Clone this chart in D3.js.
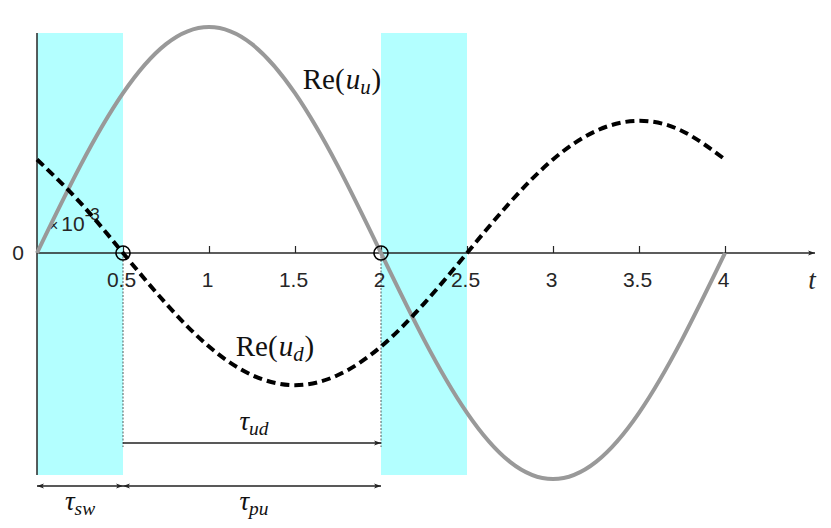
<!DOCTYPE html>
<html><head><meta charset="utf-8">
<script src="https://cdn.jsdelivr.net/npm/d3@7"></script>
<style>body{margin:0;background:#fff}svg{display:block}</style>
</head><body><svg id="c" width="831" height="528"></svg>
<script>
// Data
const tValues = [0,0.25,0.5,0.75,1,1.25,1.5,1.75,2,2.25,2.5,2.75,3,3.25,3.5,3.75,4];
const reUu = [0,0.383,0.707,0.924,1,0.924,0.707,0.383,0,-0.383,-0.707,-0.924,-1,-0.924,-0.707,-0.383,0];
const reUd = [0.414,0.224,0,-0.224,-0.414,-0.540,-0.585,-0.540,-0.414,-0.224,0,0.224,0.414,0.540,0.585,0.540,0.414];
const tickValues = [0.5,1,1.5,2,2.5,3,3.5,4];
const tickLabels = ["0.5","1","1.5","2","2.5","3","3.5","4"];
const bands = [[0,0.5],[2,2.5]];
const markers = [0.5,2];

const svg = d3.select("#c");
const x = d3.scaleLinear().domain([0,4]).range([37,725]);
const y = d3.scaleLinear().domain([-1,1]).range([479,27]);
const yTop = 33, yBot = 475, y0 = y(0);

const defs = svg.append("defs");
function mk(id, orient){
  defs.append("marker").attr("id",id).attr("viewBox","0 0 10 10").attr("refX",10).attr("refY",5)
   .attr("markerWidth",9).attr("markerHeight",7).attr("markerUnits","userSpaceOnUse").attr("orient",orient)
   .append("path").attr("d","M0,1.5 L10,5 L0,8.5 L2.5,5 Z").attr("fill","#222");
}
mk("ah","auto"); mk("ahs","auto-start-reverse");

// cyan bands
svg.selectAll("rect.band").data(bands).join("rect").attr("class","band")
  .attr("x",d=>x(d[0])).attr("width",d=>x(d[1])-x(d[0]))
  .attr("y",yTop).attr("height",yBot-yTop).attr("fill","#b3ffff");

// y axis line
svg.append("line").attr("x1",x(0)).attr("x2",x(0)).attr("y1",yTop).attr("y2",yBot)
  .attr("stroke","#262626").attr("stroke-width",1.5);

// x axis
const ax = svg.append("g").attr("transform",`translate(0,${y0})`)
  .call(d3.axisBottom(x).tickValues(tickValues).tickFormat((d,i)=>tickLabels[i])
        .tickSizeInner(-7).tickSizeOuter(0).tickPadding(19));
ax.select(".domain").remove();
ax.selectAll(".tick line").attr("stroke","#262626").attr("stroke-width",1.2);
ax.selectAll(".tick text").attr("font-family","Liberation Sans, Arial, sans-serif").attr("font-size",21).attr("fill","#262626").attr("dx",-2);
svg.append("line").attr("x1",x(0)).attr("x2",815).attr("y1",y0).attr("y2",y0)
  .attr("stroke","#262626").attr("stroke-width",1.4).attr("marker-end","url(#ah)");

svg.append("text").attr("x",18).attr("y",y0).attr("dy","0.35em").attr("text-anchor","middle")
  .attr("font-family","Liberation Sans, Arial, sans-serif").attr("font-size",21).attr("fill","#262626").text("0");
svg.append("text").attr("x",812).attr("y",289).attr("text-anchor","middle")
  .attr("font-family","Liberation Serif, serif").attr("font-style","italic").attr("font-size",27).attr("fill","#262626").text("t");

// x10^-3
const ex = svg.append("text").attr("x",49).attr("y",231).attr("font-family","Liberation Sans, Arial, sans-serif").attr("fill","#262626");
ex.append("tspan").attr("font-size",16).text("×");
ex.append("tspan").attr("font-size",21).attr("dx",3).text("10");
ex.append("tspan").attr("font-size",17).attr("dy",-11).text("-3");

// thin vertical dashed guides
svg.selectAll("line.guide").data(markers).join("line").attr("class","guide")
  .attr("x1",d=>x(d)).attr("x2",d=>x(d)).attr("y1",y0).attr("y2",447)
  .attr("stroke","#333").attr("stroke-width",0.8).attr("stroke-dasharray","2,1.5");

// curves
const pts = (vals)=>tValues.map((t,i)=>[t,vals[i]]);
const line = d3.line().x(d=>x(d[0])).y(d=>y(d[1])).curve(d3.curveNatural);
svg.append("path").attr("d",line(pts(reUu))).attr("fill","none").attr("stroke","#999").attr("stroke-width",4);
svg.append("path").attr("d",line(pts(reUd))).attr("fill","none").attr("stroke","#000").attr("stroke-width",4).attr("stroke-dasharray","9,5");

// circles
svg.selectAll("circle.m").data(markers).join("circle").attr("class","m")
  .attr("cx",d=>x(d)).attr("cy",y0).attr("r",7).attr("fill","none").attr("stroke","#000").attr("stroke-width",1.6);

// arrows
function arrow(a,b,yy,both){
  svg.append("line").attr("x1",x(a)).attr("x2",x(b)).attr("y1",yy).attr("y2",yy)
    .attr("stroke","#222").attr("stroke-width",1.4)
    .attr("marker-end","url(#ah)").attr("marker-start",both?"url(#ahs)":null);
}
arrow(0.5,2,443,false);
arrow(0,0.5,486,true);
arrow(0.5,2,486,true);

// labels
function mathLabel(cx, by, base, sub, re, fs){
  const t = svg.append("text").attr("x",cx).attr("y",by).attr("text-anchor","middle")
    .attr("font-family","Liberation Serif, serif").attr("font-size",fs).attr("fill","#111");
  if(re){
    t.append("tspan").text("Re(");
    t.append("tspan").attr("font-style","italic").attr("dx",1).text(base);
    t.append("tspan").attr("font-style","italic").attr("font-size",fs*0.72).attr("dy",5).text(sub);
    t.append("tspan").attr("dy",-5).attr("dx",1).text(")");
  } else {
    t.append("tspan").attr("font-style","italic").text(base);
    t.append("tspan").attr("font-style","italic").attr("font-size",fs*0.72).attr("dy",5).text(sub);
  }
}
mathLabel(342,89,"u","u",true,29);
mathLabel(275,356,"u","d",true,29);
mathLabel(254,430,"τ","ud",false,27);
mathLabel(80,510,"τ","sw",false,27);
mathLabel(254,510,"τ","pu",false,27);
</script></body></html>
